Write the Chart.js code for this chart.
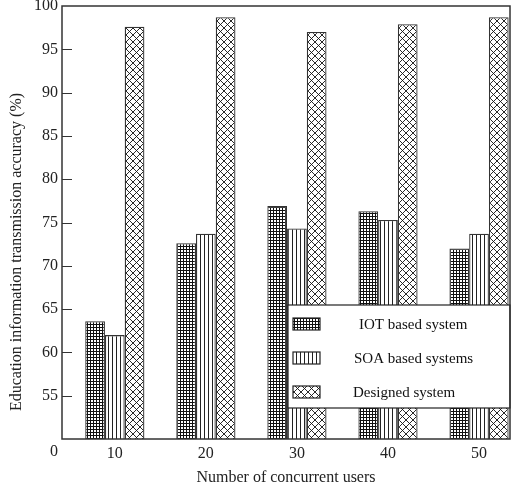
<!DOCTYPE html>
<html>
<head>
<meta charset="utf-8">
<script src="https://cdn.jsdelivr.net/npm/chart.js@4.4.1/dist/chart.umd.min.js"></script>
<style>
  body { margin: 0; background: #fff; }
  #wrap { width: 517px; height: 488px; }
</style>
</head>
<body>
<div id="wrap"><canvas id="accChart" width="517" height="488"></canvas></div>
<script>
const users = [10, 20, 30, 40, 50];
const iotValues = [63.6, 72.6, 76.9, 76.3, 72.0];
const soaValues = [62.0, 73.7, 74.3, 75.3, 73.7];
const designedValues = [97.6, 98.7, 97.0, 97.9, 98.7];
const seriesNames = ["IOT based system", "SOA based systems", "Designed system"];
const yTicks = [55, 60, 65, 70, 75, 80, 85, 90, 95, 100];

const serif = "'Liberation Serif', 'DejaVu Serif', serif";
const ink = "#222";

function makePattern(kind) {
  const c = document.createElement("canvas");
  const size = kind === "cross" ? 7 : kind === "grid" ? 3 : 4;
  c.width = size; c.height = size;
  const g = c.getContext("2d");
  g.fillStyle = "#fff";
  g.fillRect(0, 0, size, size);
  g.strokeStyle = "#111";
  g.lineWidth = 1;
  if (kind === "grid") {
    g.fillStyle = "#111";
    g.fillRect(0, 0, size, 1);
    g.fillRect(0, 0, 1, size);
  } else if (kind === "vert") {
    g.fillStyle = "#222";
    g.fillRect(0, 0, 1, size);
  } else {
    g.lineWidth = 0.9;
    g.beginPath();
    g.moveTo(0, 0); g.lineTo(size, size);
    g.moveTo(size, 0); g.lineTo(0, size);
    g.stroke();
  }
  return g.createPattern(c, "repeat");
}

const patterns = [makePattern("grid"), makePattern("vert"), makePattern("cross")];

function toPoints(vals) {
  return users.map((u, i) => ({ x: u, y: vals[i] }));
}

// frame, inner ticks, corner "0", y title and boxed legend
const decorations = {
  id: "decorations",
  afterDatasetsDraw(chart) {
    const { ctx, chartArea: a } = chart;
    ctx.save();
    // legend box
    const bx = a.left + 226, by = a.bottom - 134, bw = a.right - bx, bh = 103;
    ctx.fillStyle = "#fff";
    ctx.fillRect(bx, by, bw, bh);
    ctx.strokeStyle = ink;
    ctx.lineWidth = 1.2;
    ctx.strokeRect(bx, by, bw, bh);
    const textX = [359, 354, 353];
    chart.data.datasets.forEach((ds, i) => {
      const cy = by + 19 + i * 34;
      ctx.fillStyle = ds.backgroundColor;
      ctx.fillRect(bx + 5, cy - 6, 27, 12);
      ctx.strokeStyle = ink;
      ctx.lineWidth = 1.2;
      ctx.strokeRect(bx + 5, cy - 6, 27, 12);
      ctx.fillStyle = "#111";
      ctx.font = "15px " + serif;
      ctx.textAlign = "left";
      ctx.textBaseline = "middle";
      ctx.fillText(ds.label, textX[i], cy + 1);
    });
    ctx.restore();
  },
  afterDraw(chart) {
    const { ctx, chartArea: a, scales } = chart;
    ctx.save();
    ctx.strokeStyle = "#333";
    ctx.lineWidth = 1.5;
    ctx.strokeRect(a.left, a.top, a.right - a.left, a.bottom - a.top);
    ctx.lineWidth = 1.2;
    ctx.beginPath();
    yTicks.forEach(v => {
      if (v === 100) return;
      const y = Math.round(scales.y.getPixelForValue(v)) + 0.5;
      ctx.moveTo(a.left, y);
      ctx.lineTo(a.left + 10, y);
    });
    ctx.stroke();
    ctx.fillStyle = ink;
    ctx.font = "16px " + serif;
    ctx.textAlign = "center";
    ctx.textBaseline = "middle";
    ctx.fillText("0", a.left - 8, a.bottom + 13);
    ctx.translate(17, 252);
    ctx.rotate(-Math.PI / 2);
    ctx.fillText("Education information transmission accuracy (%)", 0, 0);
    ctx.restore();
  }
};

new Chart(document.getElementById("accChart"), {
  type: "bar",
  data: {
    datasets: [
      { label: seriesNames[0], data: toPoints(iotValues), backgroundColor: patterns[0] },
      { label: seriesNames[1], data: toPoints(soaValues), backgroundColor: patterns[1] },
      { label: seriesNames[2], data: toPoints(designedValues), backgroundColor: patterns[2] }
    ].map(d => Object.assign(d, {
      borderColor: "#333",
      borderWidth: 1.3,
      borderSkipped: false,
      categoryPercentage: 0.65,
      barPercentage: 1.0
    }))
  },
  options: {
    responsive: false,
    animation: false,
    layout: { padding: { top: 6, right: 7, left: 0, bottom: 0 } },
    plugins: { legend: { display: false }, tooltip: { enabled: false } },
    scales: {
      x: {
        type: "linear",
        min: 4.2,
        max: 53.4,
        offset: false,
        grid: { display: false, drawTicks: false },
        border: { display: false },
        afterBuildTicks: s => { s.ticks = users.map(v => ({ value: v })); },
        afterFit: s => { s.height = 49; s.paddingLeft = 0; s.paddingRight = 0; },
        ticks: { padding: 5, color: ink, font: { family: serif, size: 16 } },
        title: {
          display: true,
          text: "Number of concurrent users",
          color: ink,
          font: { family: serif, size: 16 },
          padding: { top: 0, bottom: 1 }
        }
      },
      y: {
        min: 50,
        max: 100,
        grid: { display: false, drawTicks: false },
        border: { display: false },
        afterBuildTicks: s => { s.ticks = yTicks.map(v => ({ value: v })); },
        afterFit: s => { s.width = 62; s.paddingTop = 0; s.paddingBottom = 0; },
        ticks: { padding: 4, color: ink, font: { family: serif, size: 16 } }
      }
    }
  },
  plugins: [decorations]
});
</script>
</body>
</html>
